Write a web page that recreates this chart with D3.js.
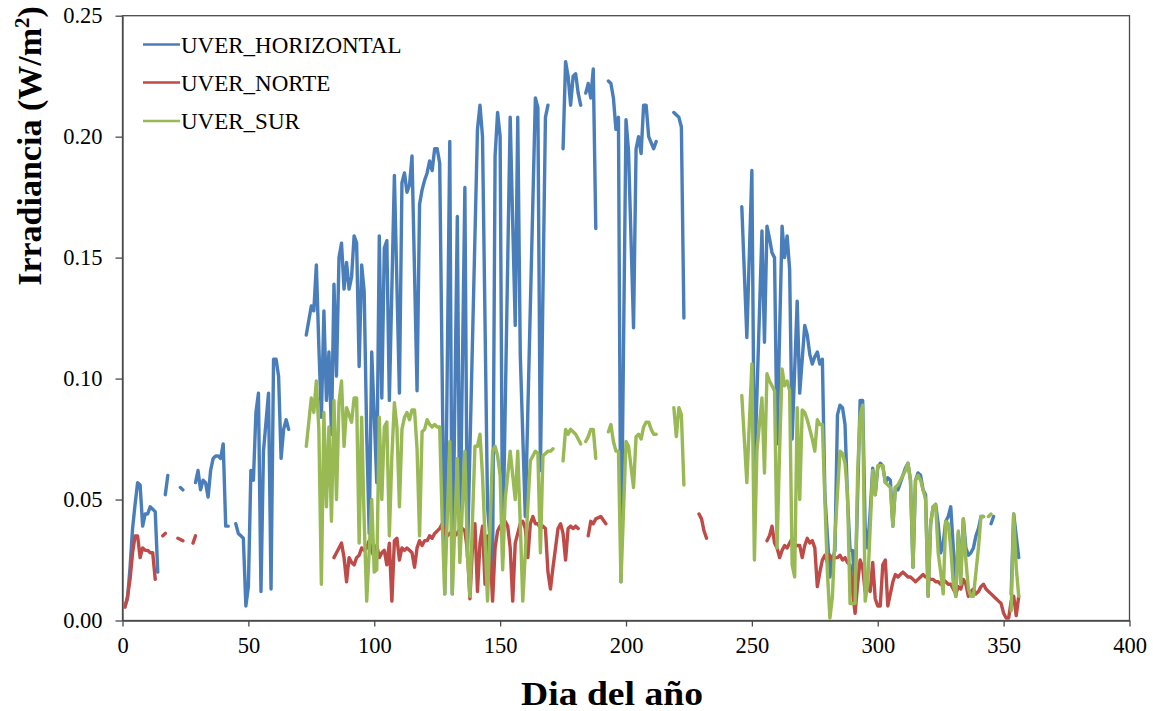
<!DOCTYPE html>
<html><head><meta charset="utf-8">
<script src="https://cdn.jsdelivr.net/npm/d3@7"></script>
<style>body{margin:0;background:#fff}svg{display:block}</style>
</head><body>
<svg id="c" width="1153" height="711"></svg>
<script>
const xTicks = [0,50,100,150,200,250,300,350,400];
const yTicks = [0,0.05,0.10,0.15,0.20,0.25];
const seriesNames = ["UVER_HORIZONTAL","UVER_NORTE","UVER_SUR"];
const seriesColors = ["#4a7ebb","#be4b48","#98b954"];

const horizontal = [
[1,0.006],[2,0.009],[3,0.022],[4,0.038],[5,0.048],[6,0.057],[7,0.056],[8,0.039],[9,0.044],[10,0.044],[11,0.047],[12,0.046],[13,0.045],[14,0.020],null,
[17,0.052],[18,0.060],null,
[23,0.055],[24,0.054],null,
[29,0.057],[30,0.062],[31,0.054],[32,0.058],[33,0.057],[34,0.051],[35,0.062],[36,0.067],[37,0.068],[38,0.068],[39,0.067],[40,0.073],[41,0.039],[42,0.039],null,
[45,0.040],[46,0.036],[47,0.035],[48,0.034],[49,0.006],[50,0.014],[51,0.062],[52,0.058],[53,0.086],[54,0.094],[55,0.012],[56,0.070],[58,0.094],[59,0.013],[60,0.108],[61,0.108],[62,0.101],[63,0.067],[64,0.079],[65,0.083],[66,0.079],null,
[73,0.118],[75,0.130],[76,0.128],[77,0.147],[78,0.113],[79,0.084],[80,0.128],[81,0.091],[82,0.111],[83,0.077],[84,0.139],[85,0.101],[86,0.150],[87,0.156],[88,0.137],[89,0.148],[90,0.137],[91,0.142],[92,0.159],[93,0.156],[94,0.105],[95,0.147],[96,0.136],[97,0.077],[98,0.036],[99,0.111],[101,0.057],[102,0.159],[103,0.092],[104,0.154],[105,0.157],[106,0.091],[108,0.184],[110,0.094],[111,0.181],[112,0.185],[113,0.177],[114,0.180],[115,0.192],[116,0.144],[117,0.095],[118,0.172],[119,0.178],[120,0.182],[121,0.185],[122,0.190],[123,0.186],[124,0.195],[125,0.195],[126,0.189],[128,0.011],[130,0.198],[131,0.011],[133,0.167],[134,0.028],[136,0.179],[137,0.026],[141,0.203],[142,0.213],[143,0.200],[145,0.047],[147,0.020],[148,0.192],[149,0.210],[150,0.200],[151,0.026],[154,0.208],[155,0.164],[156,0.122],[157,0.208],[158,0.110],[160,0.043],[164,0.216],[165,0.212],[166,0.062],[168,0.208],[169,0.213],null,
[175,0.195],[176,0.231],[177,0.225],[178,0.213],[179,0.225],[180,0.226],[181,0.218],[182,0.213],null,
[184,0.218],[185,0.222],[186,0.216],[187,0.228],[188,0.162],null,
[193,0.223],[194,0.222],[195,0.216],[196,0.203],[197,0.208],[198,0.016],[200,0.207],[201,0.194],[203,0.121],[204,0.195],[205,0.200],[206,0.193],[207,0.213],[208,0.213],[209,0.200],[211,0.195],[212,0.198],null,
[219,0.210],[221,0.208],[222,0.204],[223,0.125],null,
[246,0.171],[248,0.117],[250,0.186],[251,0.059],[254,0.161],[255,0.115],[256,0.163],[257,0.158],[258,0.152],[259,0.150],[260,0.073],[262,0.163],[263,0.150],[264,0.159],[265,0.145],[266,0.075],[268,0.132],[269,0.094],[271,0.122],[272,0.118],[273,0.110],[274,0.106],[275,0.109],[276,0.111],[277,0.106],[278,0.108],[279,0.052],[281,0.018],[282,0.025],[283,0.029],[284,0.085],[285,0.089],[286,0.088],[287,0.081],[288,0.050],[289,0.029],[290,0.029],[291,0.012],[293,0.091],[294,0.091],[295,0.038],[296,0.030],[297,0.045],[298,0.063],[299,0.052],[300,0.063],[301,0.065],[302,0.064],[303,0.057],[304,0.059],[305,0.058],[306,0.039],[307,0.055],[308,0.054],[309,0.057],[310,0.060],[311,0.063],[312,0.065],[313,0.058],[314,0.022],[315,0.058],[316,0.061],[317,0.060],[318,0.054],[319,0.052],[320,0.010],[321,0.040],[322,0.047],[323,0.048],[324,0.040],[325,0.028],[326,0.032],[327,0.041],[328,0.043],[329,0.047],[330,0.030],[331,0.010],[332,0.036],[333,0.020],[334,0.042],[335,0.030],[336,0.027],[337,0.028],[338,0.030],[339,0.035],[340,0.038],[341,0.043],[342,0.043],null,
[345,0.040],[346,0.043],null,
[353,0.011],[354,0.044],[356,0.026]
];

const norte = [
[1,0.0055],[2,0.010],[3,0.017],[4,0.028],[5,0.035],[6,0.035],[7,0.026],[8,0.030],[9,0.029],[10,0.029],[11,0.028],[12,0.028],[13,0.017],null,
[16,0.035],[17,0.036],null,
[22,0.034],[24,0.033],null,
[28,0.032],[29,0.035],null,
[84,0.026],[85,0.028],[86,0.030],[87,0.032],[88,0.026],[89,0.016],[90,0.026],[91,0.024],[92,0.023],[93,0.026],[94,0.027],[95,0.030],[96,0.029],[97,0.030],[98,0.033],[99,0.029],[100,0.026],[101,0.031],[102,0.026],[103,0.028],[104,0.029],[105,0.023],[106,0.032],[107,0.008],[108,0.033],[109,0.034],[110,0.025],[111,0.030],[112,0.029],[113,0.030],[114,0.029],[115,0.028],[116,0.022],[117,0.030],[118,0.033],[119,0.031],[120,0.033],[121,0.033],[122,0.035],[123,0.034],[124,0.036],[125,0.037],[126,0.038],[127,0.040],[128,0.036],[129,0.035],[130,0.036],[131,0.037],[132,0.035],[133,0.036],[134,0.038],[135,0.038],[136,0.037],[137,0.029],[138,0.009],[139,0.030],[140,0.040],[141,0.012],[142,0.032],[143,0.039],[144,0.015],[145,0.035],[146,0.030],[147,0.008],[148,0.030],[149,0.037],[150,0.039],[151,0.038],[152,0.041],[153,0.039],[154,0.030],[155,0.008],[156,0.032],[157,0.036],[158,0.040],[159,0.041],[160,0.038],[161,0.026],[162,0.040],[163,0.043],[164,0.040],[165,0.040],[166,0.038],[167,0.039],[168,0.038],[169,0.020],[170,0.013],[171,0.022],[172,0.030],[173,0.038],[174,0.040],[175,0.036],[176,0.025],[177,0.038],[178,0.039],[179,0.038],[180,0.039],[181,0.038],null,
[185,0.035],[186,0.041],[187,0.040],[188,0.042],[190,0.043],[192,0.040],null,
[229,0.044],[230,0.042],[231,0.037],[232,0.034],null,
[256,0.033],[257,0.035],[258,0.039],[259,0.032],[260,0.030],[261,0.026],[262,0.029],[263,0.031],[264,0.030],[265,0.032],[266,0.034],[267,0.031],[268,0.031],[269,0.031],[270,0.026],[271,0.031],[272,0.034],[273,0.032],[274,0.033],[275,0.030],[276,0.014],[277,0.020],[278,0.025],[279,0.027],[280,0.024],[281,0.027],[282,0.025],[283,0.026],[284,0.026],[285,0.027],[286,0.025],[287,0.026],[288,0.024],[289,0.023],[290,0.012],[291,0.003],[292,0.015],[293,0.025],[294,0.022],[295,0.012],[296,0.014],[297,0.012],[298,0.024],[299,0.009],[300,0.006],[301,0.006],[302,0.023],[303,0.025],[304,0.006],[305,0.011],[306,0.016],[307,0.019],[308,0.018],[309,0.019],[310,0.020],[311,0.019],[312,0.018],[313,0.018],[314,0.017],[315,0.016],[316,0.017],[317,0.018],[318,0.019],[319,0.018],[320,0.018],[321,0.017],[322,0.017],[323,0.016],[324,0.016],[325,0.015],[326,0.017],[327,0.016],[328,0.015],[329,0.015],[330,0.013],[331,0.011],[332,0.014],[333,0.013],[334,0.017],[335,0.015],[336,0.010],[337,0.012],[338,0.013],[339,0.011],[340,0.012],[341,0.014],[342,0.015],[343,0.013],[344,0.012],[345,0.011],[346,0.010],[347,0.009],[348,0.008],[349,0.007],[350,0.003],[351,0.001],[352,0.001],[353,0.008],[354,0.010],[355,0.002],[356,0.010]
];

const sur = [
[73,0.072],[75,0.092],[76,0.086],[77,0.099],[78,0.079],[79,0.015],[80,0.086],[81,0.047],[82,0.080],[83,0.041],[84,0.091],[85,0.050],[86,0.090],[87,0.099],[88,0.072],[89,0.088],[90,0.085],[91,0.082],[92,0.092],[93,0.092],[94,0.032],[95,0.084],[96,0.041],[97,0.008],[99,0.050],[100,0.020],[101,0.021],[102,0.084],[103,0.050],[104,0.080],[105,0.082],[106,0.035],[107,0.068],[108,0.090],[109,0.080],[110,0.047],[111,0.079],[112,0.084],[113,0.086],[114,0.083],[115,0.087],[116,0.087],[117,0.071],[118,0.035],[119,0.078],[120,0.079],[121,0.083],[122,0.081],[123,0.080],[124,0.081],[125,0.080],[126,0.080],[127,0.041],[128,0.011],[130,0.074],[131,0.011],[133,0.067],[134,0.024],[136,0.070],[137,0.028],[138,0.010],[140,0.072],[141,0.072],[142,0.077],[143,0.060],[145,0.008],[147,0.070],[148,0.072],[149,0.068],[150,0.060],[151,0.021],[152,0.050],[154,0.070],[155,0.060],[156,0.050],[157,0.070],[158,0.040],[159,0.008],[160,0.028],[162,0.066],[163,0.068],[164,0.070],[165,0.069],[166,0.028],[167,0.068],[168,0.069],[169,0.070],[170,0.070],[171,0.071],null,
[175,0.066],[176,0.079],[177,0.077],[178,0.079],[179,0.078],[180,0.077],[181,0.075],[182,0.073],null,
[184,0.074],[185,0.076],[186,0.079],[187,0.079],[188,0.067],null,
[193,0.078],[194,0.081],[195,0.074],[196,0.070],[197,0.070],[198,0.016],[200,0.074],[201,0.072],[203,0.055],[204,0.076],[205,0.077],[206,0.075],[207,0.080],[208,0.082],[209,0.082],[210,0.079],[211,0.077],[212,0.077],null,
[219,0.088],[220,0.076],[221,0.088],[222,0.085],[223,0.056],null,
[246,0.093],[248,0.057],[250,0.106],[251,0.025],[252,0.070],[254,0.092],[255,0.061],[256,0.102],[257,0.099],[258,0.097],[259,0.095],[260,0.030],[261,0.070],[262,0.104],[263,0.097],[264,0.099],[265,0.095],[266,0.023],[267,0.018],[268,0.088],[269,0.050],[270,0.087],[271,0.086],[272,0.083],[273,0.079],[274,0.075],[275,0.070],[276,0.083],[277,0.081],[278,0.081],[279,0.050],[280,0.020],[281,0.001],[282,0.010],[283,0.035],[285,0.070],[286,0.069],[287,0.065],[288,0.052],[289,0.007],[291,0.007],[292,0.061],[293,0.085],[294,0.089],[295,0.008],[296,0.015],[298,0.062],[299,0.052],[300,0.064],[301,0.064],[302,0.064],[303,0.057],[304,0.056],[305,0.055],[306,0.039],[307,0.055],[308,0.056],[309,0.058],[310,0.060],[311,0.062],[312,0.065],[313,0.058],[314,0.022],[315,0.058],[316,0.060],[317,0.058],[318,0.054],[319,0.050],[320,0.010],[321,0.040],[322,0.047],[323,0.048],[324,0.028],[325,0.020],[326,0.011],[327,0.041],[328,0.040],[329,0.030],[330,0.015],[331,0.010],[332,0.037],[333,0.015],[334,0.042],[335,0.025],[336,0.013],[337,0.010],[338,0.010],[339,0.020],[340,0.030],[341,0.043],[342,0.043],null,
[344,0.043],[345,0.044],null,
[353,0.004],[354,0.044],[355,0.022],[356,0.010]
];

const allSeries = [horizontal, norte, sur];

const svg = d3.select("#c");
const x = d3.scaleLinear().domain([0,400]).range([122.5,1129.5]);
const y = d3.scaleLinear().domain([0,0.25]).range([620.5,15.7]);

// frame
svg.append("rect").attr("x",122.5).attr("y",15.7).attr("width",1007).attr("height",604.8)
  .attr("fill","none").attr("stroke","#4a4a4a").attr("stroke-width",1.3);

const font = "'Liberation Serif','Times New Roman',serif";

const yAxis = svg.append("g").attr("transform","translate(122.5,0)")
  .call(d3.axisLeft(y).tickValues(yTicks).tickFormat(d3.format(".2f")).tickSize(7).tickSizeOuter(0).tickPadding(13));
const xAxis = svg.append("g").attr("transform","translate(0,620.5)")
  .call(d3.axisBottom(x).tickValues(xTicks).tickFormat(d3.format("d")).tickSize(6).tickSizeOuter(0).tickPadding(11));
[yAxis,xAxis].forEach(g=>{
  g.select(".domain").attr("stroke","#4a4a4a").attr("stroke-width",1.3);
  g.selectAll(".tick line").attr("stroke","#4a4a4a").attr("stroke-width",1.3);
  g.selectAll(".tick text").attr("fill","#000").style("font-family",font).style("font-size","22.5px");
});

const line = d3.line().defined(d=>d!==null).x(d=>x(d[0])).y(d=>y(d[1]));
allSeries.forEach((s,i)=>{
  svg.append("path").datum(s).attr("d",line).attr("fill","none")
    .attr("stroke",seriesColors[i]).attr("stroke-width",3.4)
    .attr("stroke-linejoin","round").attr("stroke-linecap","round");
});

// legend
const legY = [44.5, 82.5, 121];
seriesNames.forEach((n,i)=>{
  svg.append("line").attr("x1",143).attr("x2",180).attr("y1",legY[i]).attr("y2",legY[i])
    .attr("stroke",seriesColors[i]).attr("stroke-width",2.5);
  svg.append("text").attr("x",181).attr("y",legY[i]+8).text(n)
    .style("font-family",font).style("font-size","23px").attr("fill","#000");
});

// axis titles
svg.append("text").attr("x",612).attr("y",705).attr("text-anchor","middle")
  .attr("textLength",182).attr("lengthAdjust","spacingAndGlyphs")
  .style("font-family",font).style("font-size","34px").style("font-weight","bold").text("Dia del año");
const yt = svg.append("text").attr("transform","translate(41,146) rotate(-90)").attr("text-anchor","middle")
  .style("font-family",font).style("font-size","34px").style("font-weight","bold");
yt.append("tspan").text("Irradiancia (W/m");
yt.append("tspan").text("2").attr("dy",-12).style("font-size","21px");
yt.append("tspan").text(")").attr("dy",12);
</script>
</body></html>
